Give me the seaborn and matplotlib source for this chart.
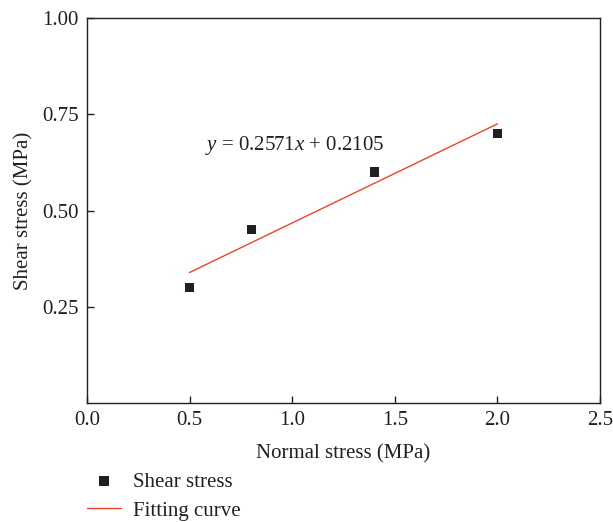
import matplotlib
matplotlib.use("Agg")
import matplotlib.pyplot as plt
import seaborn as sns
import pandas as pd

normal_stress = [0.5, 0.8, 1.4, 2.0]
shear_stress = [0.30, 0.45, 0.60, 0.70]
fit_x = [0.5, 2.0]
fit_y = [0.339, 0.725]
x_ticks = [0.0, 0.5, 1.0, 1.5, 2.0, 2.5]
y_ticks = [0.25, 0.50, 0.75, 1.00]
equation = r"$y$ = 0.2571$x$ + 0.2105"

sns.set_style("ticks")
plt.rcParams['font.family'] = ['Liberation Serif', 'DejaVu Serif']
plt.rcParams['mathtext.fontset'] = 'custom'
plt.rcParams['mathtext.it'] = 'Liberation Serif:italic'
plt.rcParams['mathtext.rm'] = 'Liberation Serif'

FS = 15
fig = plt.figure(figsize=(6.13, 5.22), dpi=100)
ax = fig.add_axes([87/613, 1 - 403/522, (600 - 87)/613, (403 - 18)/522])

pts = pd.DataFrame({"x": normal_stress, "y": shear_stress})
fit = pd.DataFrame({"x": fit_x, "y": fit_y})

sns.scatterplot(data=pts, x="x", y="y", ax=ax, marker="s", s=45,
                color="#231f20", edgecolor="none", label="Shear stress", zorder=3)
sns.lineplot(data=fit, x="x", y="y", ax=ax, color="#f0442a", linewidth=1.0,
             label="Fitting curve", zorder=2)

ax.set_xlim(0, 2.5)
ax.set_ylim(0, 1.0)
ax.set_xticks(x_ticks)
ax.set_xticklabels([f"{v:.1f}" for v in x_ticks])
ax.set_yticks(y_ticks)
ax.set_yticklabels([f"{v:.2f}" for v in y_ticks])
ax.tick_params(direction="in", length=5, width=1, labelsize=FS, colors="#231f20",
               pad=6)
for s in ax.spines.values():
    s.set_linewidth(1.0)
    s.set_color("#231f20")
ax.set_xlabel("Normal stress (MPa)", fontsize=FS, color="#231f20", labelpad=10)
ax.set_ylabel("Shear stress (MPa)", fontsize=FS, color="#231f20", labelpad=6)

ax.text(0.575, 0.67, equation, fontsize=FS, color="#231f20", va="center", ha="left")

handles, labels = ax.get_legend_handles_labels()
ax.get_legend().remove()
fig.legend(handles, labels, loc="upper left", bbox_to_anchor=(87/613, 1 - 472/522),
           frameon=False, fontsize=FS, handlelength=1.63, handletextpad=0.6,
           labelspacing=0.45, borderpad=0, borderaxespad=0, labelcolor="#231f20")

fig.savefig("out.png", dpi=100)
